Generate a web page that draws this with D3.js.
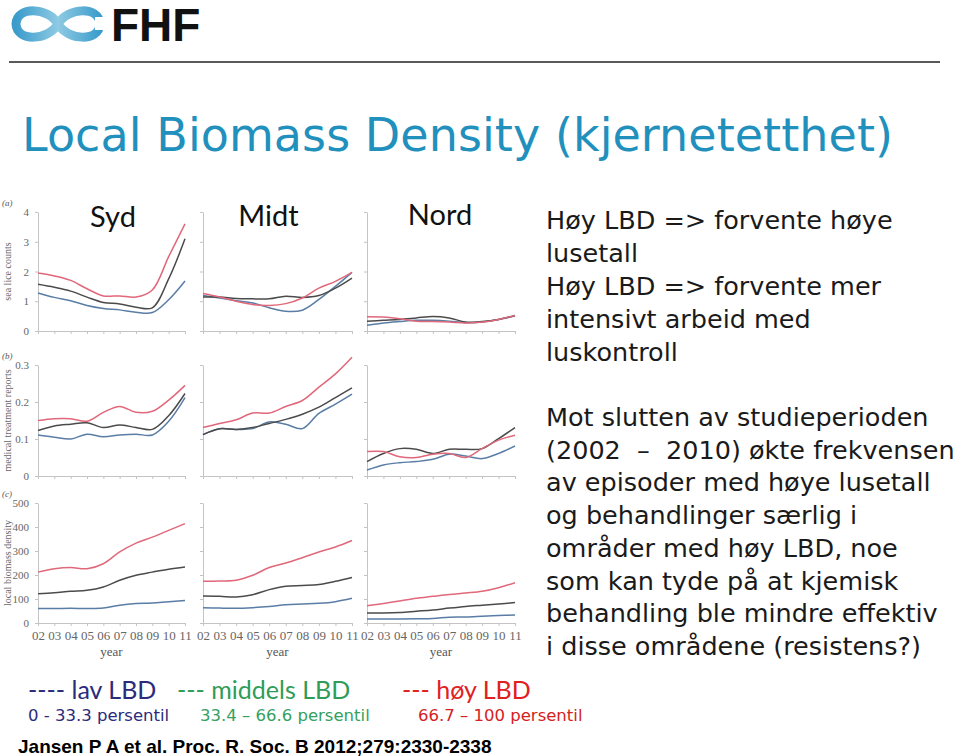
<!DOCTYPE html>
<html>
<head>
<meta charset="utf-8">
<title>Local Biomass Density</title>
<style>
  body { margin: 0; background: #fff; }
  svg { display: block; }
  .axis path, .axis line { stroke: #c4c4c4; }
  .axis text { font-family: "Liberation Serif", serif; fill: #666; }
</style>
<script src="https://cdn.jsdelivr.net/npm/d3@7"></script>
</head>
<body>
<svg id="slide" width="960" height="756"></svg>
<script>
// years on the x axis
var years = ["02","03","04","05","06","07","08","09","10","11"];

// (a) sea lice counts
var liceSydLow   = [1.28,1.13,1.02,0.86,0.76,0.71,0.63,0.62,1.05,1.68];
var liceSydMid   = [1.57,1.47,1.34,1.14,0.96,0.91,0.80,0.78,1.75,3.10];
var liceSydHigh  = [1.95,1.85,1.70,1.42,1.18,1.18,1.14,1.38,2.50,3.60];
var liceMidtLow  = [1.19,1.11,1.02,0.94,0.78,0.66,0.70,1.06,1.50,1.97];
var liceMidtMid  = [1.14,1.14,1.09,1.08,1.08,1.17,1.13,1.19,1.44,1.78];
var liceMidtHigh = [1.26,1.14,1.00,0.89,0.86,0.92,1.11,1.44,1.67,1.97];
var liceNordLow  = [0.19,0.27,0.32,0.36,0.36,0.33,0.28,0.30,0.39,0.50];
var liceNordMid  = [0.33,0.36,0.39,0.44,0.49,0.44,0.30,0.32,0.39,0.52];
var liceNordHigh = [0.48,0.47,0.41,0.33,0.32,0.30,0.27,0.30,0.39,0.52];

// (b) medical treatment reports
var treatSydLow   = [0.111,0.105,0.100,0.113,0.106,0.111,0.113,0.111,0.148,0.212];
var treatSydMid   = [0.123,0.135,0.140,0.144,0.131,0.138,0.131,0.126,0.163,0.223];
var treatSydHigh  = [0.150,0.155,0.155,0.148,0.172,0.188,0.172,0.175,0.205,0.245];
var treatMidtLow  = [0.112,0.128,0.126,0.128,0.146,0.140,0.128,0.169,0.194,0.221];
var treatMidtMid  = [0.112,0.128,0.126,0.131,0.142,0.153,0.167,0.186,0.212,0.238];
var treatMidtHigh = [0.131,0.142,0.152,0.170,0.170,0.188,0.204,0.240,0.276,0.321];
var treatNordLow  = [0.016,0.030,0.036,0.039,0.045,0.059,0.054,0.047,0.061,0.081];
var treatNordMid  = [0.039,0.061,0.074,0.072,0.061,0.072,0.072,0.074,0.101,0.131];
var treatNordHigh = [0.066,0.066,0.052,0.050,0.059,0.061,0.050,0.074,0.097,0.110];

// (c) local biomass density
var bioSydLow   = [60,60,61,60,62,74,81,83,89,94];
var bioSydMid   = [122,126,132,136,150,178,199,212,224,233];
var bioSydHigh  = [212,226,231,226,247,296,333,358,386,414];
var bioMidtLow  = [64,62,61,64,69,76,79,82,89,103];
var bioMidtMid  = [112,111,108,118,139,153,156,160,174,190];
var bioMidtHigh = [174,175,178,199,231,250,272,296,317,344];
var bioNordLow  = [17,17,17,18,19,24,25,28,31,33];
var bioNordMid  = [42,42,44,49,54,62,69,74,79,85];
var bioNordHigh = [72,81,92,103,111,119,125,132,147,168];

var regions = ["Syd", "Midt", "Nord"];
var liceTicks = [0,1,2,3,4];
var treatTicks = [0,0.1,0.2,0.3];
var bioTicks = [0,100,200,300,400,500];

var textTop = [
  "Høy LBD => forvente høye",
  "lusetall",
  "Høy LBD => forvente mer",
  "intensivt arbeid med",
  "luskontroll"
];
var textBottom = [
  "Mot slutten av studieperioden",
  "(2002  –  2010) økte frekvensen",
  "av episoder med høye lusetall",
  "og behandlinger særlig i",
  "områder med høy LBD, noe",
  "som kan tyde på at kjemisk",
  "behandling ble mindre effektiv",
  "i disse områdene (resistens?)"
];
var legendNames = ["---- lav LBD", "--- middels LBD", "--- høy LBD"];
var legendRanges = ["0 - 33.3 persentil", "33.4 – 66.6 persentil", "66.7 – 100 persentil"];
var citation = "Jansen P A et al. Proc. R. Soc. B 2012;279:2330-2338";

var lineColors = ["#5a7da6", "#4b4b4b", "#e0687a"];
var legendColors = ["#2b2b7c", "#2f9c58", "#e0211f"];
var subColors = ["#2b2b7c", "#35a060", "#d42222"];

var svg = d3.select("#slide");
svg.append("rect").attr("width", 960).attr("height", 756).attr("fill", "#fff");

// ---- header: logo + rule
var logo = svg.append("g");
var grad = svg.append("defs").append("linearGradient").attr("id", "lg")
  .attr("x1", "0%").attr("x2", "100%");
grad.append("stop").attr("offset", "0%").attr("stop-color", "#3b9ccb");
grad.append("stop").attr("offset", "50%").attr("stop-color", "#8ecae3");
grad.append("stop").attr("offset", "100%").attr("stop-color", "#3b9ccb");
logo.append("path")
  .attr("d", "M58 24 C68 7,99 6,100 24 C99 42,68 41,58 24 C48 7,17 6,16 24 C17 42,48 41,58 24 Z")
  .attr("fill", "none").attr("stroke", "url(#lg)").attr("stroke-width", 9);
logo.append("rect").attr("x", 95).attr("y", 17).attr("width", 12).attr("height", 13).attr("fill", "#fff");
logo.append("text").attr("x", 111).attr("y", 41)
  .style("font-family", "Liberation Sans, Arial, sans-serif").style("font-weight", "bold")
  .style("font-size", "46px").attr("fill", "#111").text("FHF");
svg.append("line").attr("x1", 9).attr("x2", 940).attr("y1", 62).attr("y2", 62)
  .attr("stroke", "#222").attr("stroke-width", 1.5);

// ---- title
svg.append("text").attr("x", 22).attr("y", 151)
  .style("font-family", "DejaVu Sans, sans-serif").style("font-size", "46px")
  .attr("fill", "#2190bd").attr("textLength", 871).attr("lengthAdjust", "spacing")
  .text("Local Biomass Density (kjernetetthet)");

// ---- small multiples
var colX = [[38,185],[203,352],[367,515]];
var rows = [
  { tag: "(a)", title: "sea lice counts", ticks: liceTicks, range: [331,212], fmt: d3.format("d"),
    data: [[liceSydLow, liceSydMid, liceSydHigh], [liceMidtLow, liceMidtMid, liceMidtHigh], [liceNordLow, liceNordMid, liceNordHigh]] },
  { tag: "(b)", title: "medical treatment reports", ticks: treatTicks, range: [476,365], fmt: function(d){ return d === 0 ? "0" : d3.format(".1f")(d); },
    data: [[treatSydLow, treatSydMid, treatSydHigh], [treatMidtLow, treatMidtMid, treatMidtHigh], [treatNordLow, treatNordMid, treatNordHigh]] },
  { tag: "(c)", title: "local biomass density", ticks: bioTicks, range: [623,503], fmt: d3.format("d"),
    data: [[bioSydLow, bioSydMid, bioSydHigh], [bioMidtLow, bioMidtMid, bioMidtHigh], [bioNordLow, bioNordMid, bioNordHigh]] }
];

var charts = svg.append("g");
rows.forEach(function(row, r) {
  var y = d3.scaleLinear().domain([0, d3.max(row.ticks)]).range(row.range);

  charts.append("text").attr("x", 2).attr("y", row.range[1] - 6)
    .style("font-family", "Liberation Serif, serif").style("font-style", "italic")
    .style("font-size", "9px").attr("fill", "#555").text(row.tag);

  var mid = (row.range[0] + row.range[1]) / 2;
  charts.append("text")
    .attr("transform", "translate(11," + mid + ") rotate(-90)")
    .attr("text-anchor", "middle")
    .style("font-family", "Liberation Serif, serif").style("font-size", "10px")
    .attr("fill", "#666").text(row.title);

  colX.forEach(function(cx, c) {
    var x = d3.scalePoint().domain(years).range(cx);
    var g = charts.append("g");

    g.append("g").attr("class", "axis")
      .attr("transform", "translate(" + cx[0] + ",0)")
      .call(d3.axisLeft(y).tickValues(row.ticks).tickSize(3).tickSizeOuter(0).tickPadding(6)
        .tickFormat(c === 0 ? row.fmt : ""))
      .selectAll("text").style("font-size", "11px");

    g.append("g").attr("class", "axis")
      .attr("transform", "translate(0," + row.range[0] + ")")
      .call(d3.axisBottom(x).tickSize(3).tickSizeOuter(0).tickPadding(5)
        .tickFormat(r === 2 ? function(d){ return d; } : ""))
      .selectAll("text").style("font-size", "13px").attr("fill", "#555");

    var line = d3.line()
      .x(function(d, i) { return x(years[i]); })
      .y(function(d) { return y(d); })
      .curve(d3.curveCatmullRom.alpha(0.5));

    g.selectAll("path.series").data(row.data[c]).enter().append("path")
      .attr("class", "series")
      .attr("d", line)
      .attr("fill", "none")
      .attr("stroke", function(d, i) { return lineColors[i]; })
      .attr("stroke-width", 1.5);

    if (r === 2) {
      g.append("text").attr("x", (cx[0] + cx[1]) / 2).attr("y", 656)
        .attr("text-anchor", "middle")
        .style("font-family", "Liberation Serif, serif").style("font-size", "13px")
        .attr("fill", "#555").text("year");
    }
  });
});

// region headings
var headX = d3.scalePoint().domain(regions).range([113, 440]);
svg.selectAll("text.region").data(regions).enter().append("text")
  .attr("class", "region")
  .attr("x", function(d) { return headX(d) + (d === "Midt" ? -8 : 0); })
  .attr("y", function(d, i) { return 227 - i; })
  .attr("text-anchor", "middle")
  .style("font-family", "Lato, sans-serif").style("font-size", "29px")
  .attr("fill", "#111").text(function(d) { return d; });

// ---- right-hand text
var body = svg.append("g").style("font-family", "DejaVu Sans, sans-serif")
  .style("font-size", "25.5px").attr("fill", "#1a1a1a");
body.selectAll("text.top").data(textTop).enter().append("text")
  .attr("class", "top").attr("x", 546)
  .attr("y", function(d, i) { return 229 + i * 33; })
  .text(function(d) { return d; });
body.selectAll("text.bot").data(textBottom).enter().append("text")
  .attr("class", "bot").attr("x", 546)
  .attr("y", function(d, i) { return 426 + i * 32.7; })
  .attr("xml:space", "preserve").style("white-space", "pre")
  .text(function(d) { return d; });

// ---- legend
var legX = [28, 177, 402];
var subX = [28, 200, 418];
svg.selectAll("text.leg").data(legendNames).enter().append("text")
  .attr("class", "leg").attr("x", function(d, i) { return legX[i]; }).attr("y", 699)
  .style("font-family", "Lato, sans-serif").style("font-size", "25px")
  .attr("fill", function(d, i) { return legendColors[i]; })
  .text(function(d) { return d; });
svg.selectAll("text.sub").data(legendRanges).enter().append("text")
  .attr("class", "sub").attr("x", function(d, i) { return subX[i]; }).attr("y", 721)
  .style("font-family", "DejaVu Sans, sans-serif").style("font-size", "16.5px")
  .attr("fill", function(d, i) { return subColors[i]; })
  .text(function(d) { return d; });

svg.append("text").attr("x", 18).attr("y", 753)
  .style("font-family", "Liberation Sans, Arial, sans-serif").style("font-weight", "bold")
  .style("font-size", "19px").attr("fill", "#000").text(citation);
</script>
</body>
</html>
